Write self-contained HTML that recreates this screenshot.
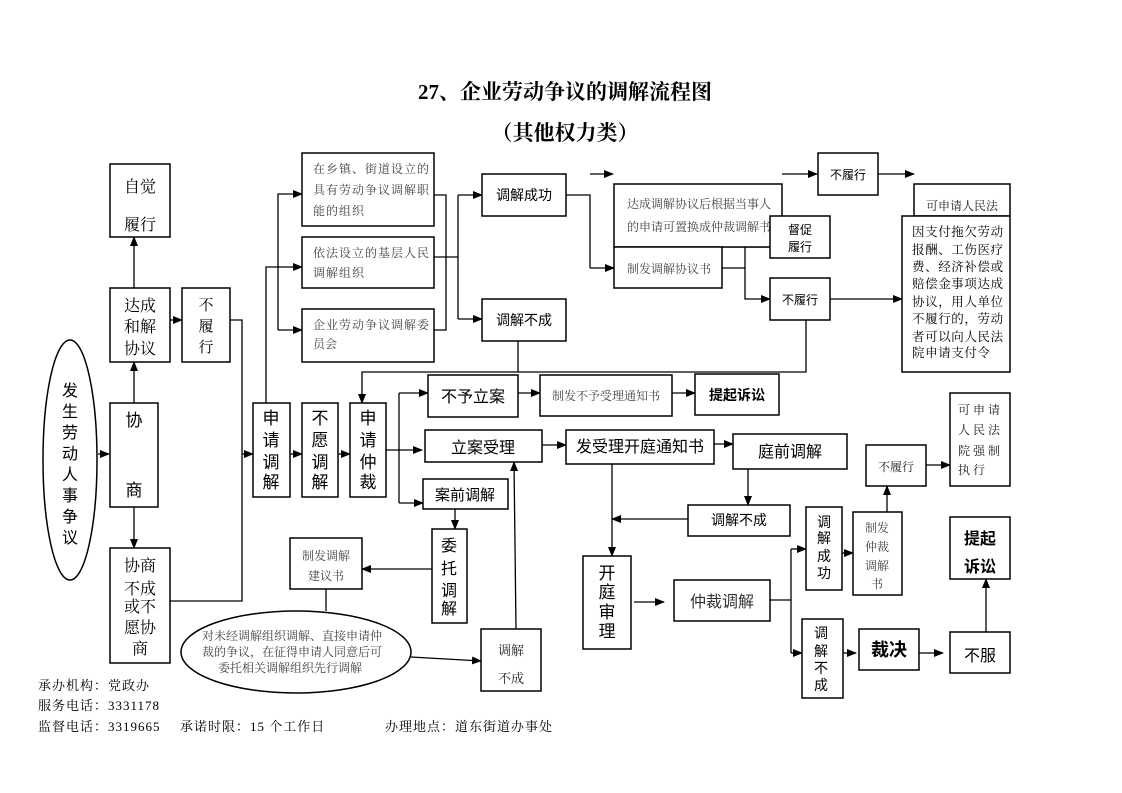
<!DOCTYPE html>
<html><head><meta charset="utf-8"><style>
html,body{margin:0;padding:0;background:#fff;}
svg{display:block;}
.s{font-family:"Liberation Sans","Noto Sans CJK SC",sans-serif;fill:#000;}
.r{font-family:"Liberation Serif","Noto Serif CJK SC",serif;fill:#000;}
.g{font-family:"Liberation Serif","Noto Serif CJK SC",serif;fill:#444;font-size:12px;}
</style></head><body>
<svg width="1122" height="793" viewBox="0 0 1122 793" xmlns="http://www.w3.org/2000/svg">
<defs><marker id="a" markerWidth="10" markerHeight="8" refX="9" refY="4" orient="auto" markerUnits="userSpaceOnUse"><path d="M0,0 L10,4 L0,8 z" fill="#000"/></marker></defs>
<g text-anchor="middle">
<text x="565" y="99" class="r" font-size="21" font-weight="bold">27、企业劳动争议的调解流程图</text>
<text x="565" y="140" class="r" font-size="21" font-weight="bold">（其他权力类）</text>
</g>
<g fill="none" stroke="#000" stroke-width="1.3">
<path d="M98,454 H109" marker-end="url(#a)"/>
<path d="M134,403 V362" marker-end="url(#a)"/>
<path d="M134,288 V237" marker-end="url(#a)"/>
<path d="M170,320 H182" marker-end="url(#a)"/>
<path d="M134,507 V548" marker-end="url(#a)"/>
<path d="M230,320 H242 V601 H170"/>
<path d="M242,454 H253" marker-end="url(#a)"/>
<path d="M290,454 H302" marker-end="url(#a)"/>
<path d="M338,454 H350" marker-end="url(#a)"/>
<path d="M266,403 V267 H302" marker-end="url(#a)"/>
<path d="M278,330 V194 H302" marker-end="url(#a)"/>
<path d="M278,330 H302" marker-end="url(#a)"/>
<path d="M434,195 H446 V330 H434 M434,257 H458"/>
<path d="M458,195 V319"/>
<path d="M458,195 H482" marker-end="url(#a)"/>
<path d="M458,319 H482" marker-end="url(#a)"/>
<path d="M566,195 H590 V268"/>
<path d="M590,174 H613" marker-end="url(#a)"/>
<path d="M590,268 H614" marker-end="url(#a)"/>
<path d="M782,174 H817" marker-end="url(#a)"/>
<path d="M878,174 H914" marker-end="url(#a)"/>
<path d="M722,268 H745 V237 H770" marker-end="url(#a)"/>
<path d="M745,268 V299 H770" marker-end="url(#a)"/>
<path d="M614,247 H770"/>
<path d="M830,299 H902" marker-end="url(#a)"/>
<path d="M518,341 V372 M806,320 V372 H362 V403" marker-end="url(#a)"/>
<path d="M386,450 H422" marker-end="url(#a)"/>
<path d="M399,393 V503"/>
<path d="M399,393 H428" marker-end="url(#a)"/>
<path d="M399,503 H423" marker-end="url(#a)"/>
<path d="M518,393 H540" marker-end="url(#a)"/>
<path d="M672,393 H695" marker-end="url(#a)"/>
<path d="M542,445 H566" marker-end="url(#a)"/>
<path d="M714,444 H733" marker-end="url(#a)"/>
<path d="M455,509 V529" marker-end="url(#a)"/>
<path d="M432,569 H362" marker-end="url(#a)"/>
<path d="M326,589 V611"/>
<path d="M411,657 L481,661" marker-end="url(#a)"/>
<path d="M516,629 L514,462" marker-end="url(#a)"/>
<path d="M612,464 V556" marker-end="url(#a)"/>
<path d="M748,469 V505" marker-end="url(#a)"/>
<path d="M688,519 H612" marker-end="url(#a)"/>
<path d="M634,602 H664" marker-end="url(#a)"/>
<path d="M770,600 H791 M791,549 V653"/>
<path d="M791,549 H806" marker-end="url(#a)"/>
<path d="M791,653 H802" marker-end="url(#a)"/>
<path d="M842,553 H853" marker-end="url(#a)"/>
<path d="M887,512 V486" marker-end="url(#a)"/>
<path d="M926,465 H950" marker-end="url(#a)"/>
<path d="M843,653 H856" marker-end="url(#a)"/>
<path d="M919,653 H943" marker-end="url(#a)"/>
<path d="M986,632 V579" marker-end="url(#a)"/>
</g>
<g fill="#fff" stroke="#000" stroke-width="1.5">
<ellipse cx="70" cy="460" rx="27" ry="120"/>
<rect x="110" y="164" width="60" height="73"/>
<rect x="110" y="288" width="60" height="74"/>
<rect x="182" y="288" width="48" height="74"/>
<rect x="110" y="403" width="48" height="104"/>
<rect x="110" y="548" width="60" height="115"/>
<rect x="253" y="403" width="37" height="94"/>
<rect x="302" y="403" width="36" height="94"/>
<rect x="350" y="403" width="36" height="94"/>
<rect x="302" y="153" width="132" height="73"/>
<rect x="302" y="237" width="132" height="51"/>
<rect x="302" y="309" width="132" height="53"/>
<rect x="482" y="174" width="84" height="42"/>
<rect x="482" y="299" width="84" height="42"/>
<rect x="614" y="184" width="168" height="63"/>
<rect x="614" y="247" width="108" height="41"/>
<rect x="770" y="278" width="60" height="42"/>
<rect x="818" y="153" width="60" height="42"/>
<rect x="914" y="184" width="96" height="32"/>
<rect x="902" y="216" width="108" height="156"/>
<rect x="428" y="375" width="90" height="42"/>
<rect x="540" y="375" width="132" height="41"/>
<rect x="695" y="374" width="84" height="41"/>
<rect x="425" y="430" width="117" height="32"/>
<rect x="566" y="430" width="148" height="34"/>
<rect x="733" y="434" width="114" height="35"/>
<rect x="423" y="479" width="85" height="30"/>
<rect x="432" y="529" width="35" height="94"/>
<rect x="290" y="538" width="72" height="51"/>
<ellipse cx="296" cy="652" rx="115" ry="41"/>
<rect x="481" y="629" width="60" height="62"/>
<rect x="688" y="505" width="102" height="31"/>
<rect x="583" y="556" width="48" height="93"/>
<rect x="674" y="580" width="96" height="41"/>
<rect x="806" y="507" width="36" height="83"/>
<rect x="853" y="512" width="49" height="83"/>
<rect x="866" y="445" width="60" height="41"/>
<rect x="950" y="393" width="60" height="93"/>
<rect x="802" y="619" width="41" height="79"/>
<rect x="859" y="629" width="60" height="41"/>
<rect x="950" y="632" width="60" height="41"/>
<rect x="950" y="517" width="60" height="62"/>
</g>
<g text-anchor="middle">
<g class="s" font-size="16">
<text x="70" y="396">发</text><text x="70" y="417">生</text><text x="70" y="438">劳</text><text x="70" y="459">动</text><text x="70" y="480">人</text><text x="70" y="501">事</text><text x="70" y="522">争</text><text x="70" y="543">议</text>
</g>
<g class="r" font-size="16">
<text x="140" y="192">自觉</text><text x="140" y="230">履行</text>
<text x="140" y="311">达成</text><text x="140" y="332">和解</text><text x="140" y="354">协议</text>
<text x="206" y="310" font-size="15">不</text><text x="206" y="331" font-size="15">履</text><text x="206" y="352" font-size="15">行</text>
<text x="140" y="571">协商</text><text x="140" y="594">不成</text><text x="140" y="612">或不</text><text x="140" y="633">愿协</text><text x="140" y="654">商</text>
</g>
<g class="s" font-size="17">
<text x="134" y="426">协</text><text x="134" y="496">商</text>
<text x="271" y="424">申</text><text x="271" y="446">请</text><text x="271" y="468">调</text><text x="271" y="488">解</text>
<text x="320" y="424">不</text><text x="320" y="446">愿</text><text x="320" y="468">调</text><text x="320" y="488">解</text>
<text x="368" y="424">申</text><text x="368" y="446">请</text><text x="368" y="468">仲</text><text x="368" y="488">裁</text>
<text x="449" y="551" font-size="16">委</text><text x="449" y="574" font-size="16">托</text><text x="449" y="596" font-size="16">调</text><text x="449" y="614" font-size="16">解</text>
<text x="607" y="579">开</text><text x="607" y="598">庭</text><text x="607" y="618">审</text><text x="607" y="637">理</text>
</g>
<g class="s" font-size="14">
<text x="524" y="200">调解成功</text><text x="524" y="325">调解不成</text>
<text x="739" y="525">调解不成</text>
<text x="824" y="527">调</text><text x="824" y="543">解</text><text x="824" y="561">成</text><text x="824" y="578">功</text>
<text x="821" y="638">调</text><text x="821" y="656">解</text><text x="821" y="673">不</text><text x="821" y="690">成</text>
<text x="737" y="400" font-weight="bold">提起诉讼</text>
</g>
<g class="s" font-size="16">
<text x="473" y="402">不予立案</text>
<text x="483" y="453">立案受理</text>
<text x="640" y="452">发受理开庭通知书</text>
<text x="790" y="457">庭前调解</text>
<text x="465" y="500" font-size="15">案前调解</text>
<text x="722" y="607" fill="#333">仲裁调解</text>
<text x="980" y="661">不服</text>
<text x="980" y="544" font-weight="bold">提起</text><text x="980" y="572" font-weight="bold">诉讼</text>
<text x="889" y="656" font-size="18" font-weight="bold">裁决</text>
</g>
<g class="s" font-size="12">
<text x="800" y="304">不履行</text><text x="848" y="179">不履行</text>
</g>
<g class="g">
<text x="606" y="400">制发不予受理通知书</text>
<text x="326" y="560">制发调解</text><text x="326" y="580">建议书</text>
<text x="877" y="532">制发</text><text x="877" y="551">仲裁</text><text x="877" y="570">调解</text><text x="877" y="588">书</text>
<text x="896" y="471" fill="#222">不履行</text>
<text x="962" y="210" fill="#222">可申请人民法</text>
<text x="511" y="655" font-size="13" fill="#222">调解</text><text x="511" y="683" font-size="13" fill="#222">不成</text>
</g>
<g class="g" font-size="10" fill="#222">
<text x="292" y="640">对未经调解组织调解、直接申请仲</text>
<text x="292" y="656">裁的争议，在征得申请人同意后可</text>
<text x="290" y="672">委托相关调解组织先行调解</text>
</g>
</g>
<g class="g">
<text x="313" y="173" letter-spacing="1">在乡镇、街道设立的</text>
<text x="313" y="194" letter-spacing="1">具有劳动争议调解职</text>
<text x="313" y="215" letter-spacing="1">能的组织</text>
<text x="313" y="257" letter-spacing="1">依法设立的基层人民</text>
<text x="313" y="277" letter-spacing="1">调解组织</text>
<text x="313" y="329" letter-spacing="1">企业劳动争议调解委</text>
<text x="313" y="348">员会</text>
<text x="627" y="208">达成调解协议后根据当事人</text>
<text x="627" y="231">的申请可置换成仲裁调解书</text>
<text x="627" y="273">制发调解协议书</text>
<text x="958" y="414" letter-spacing="3" fill="#222">可申请</text>
<text x="958" y="434" letter-spacing="3" fill="#222">人民法</text>
<text x="958" y="455" letter-spacing="3" fill="#222">院强制</text>
<text x="958" y="474" letter-spacing="3" fill="#222">执行</text>
</g>
<rect x="770" y="216" width="60" height="42" fill="#fff" stroke="#000" stroke-width="1.5"/>
<g class="s" font-size="12" text-anchor="middle"><text x="800" y="234">督促</text><text x="800" y="251">履行</text></g>
<g class="r" font-size="12.5" fill="#222" letter-spacing="0.6">
<text x="912" y="236">因支付拖欠劳动</text>
<text x="912" y="254">报酬、工伤医疗</text>
<text x="912" y="271">费、经济补偿或</text>
<text x="912" y="288">赔偿金事项达成</text>
<text x="912" y="306">协议，用人单位</text>
<text x="912" y="323">不履行的，劳动</text>
<text x="912" y="341">者可以向人民法</text>
<text x="912" y="357">院申请支付令</text>
</g>
<g class="r" font-size="13" fill="#222" letter-spacing="1">
<text x="38" y="690">承办机构：党政办</text>
<text x="38" y="710">服务电话：3331178</text>
<text x="38" y="731">监督电话：3319665</text>
<text x="180" y="731">承诺时限：15 个工作日</text>
<text x="385" y="731">办理地点：道东街道办事处</text>
</g>
</svg>
</body></html>
